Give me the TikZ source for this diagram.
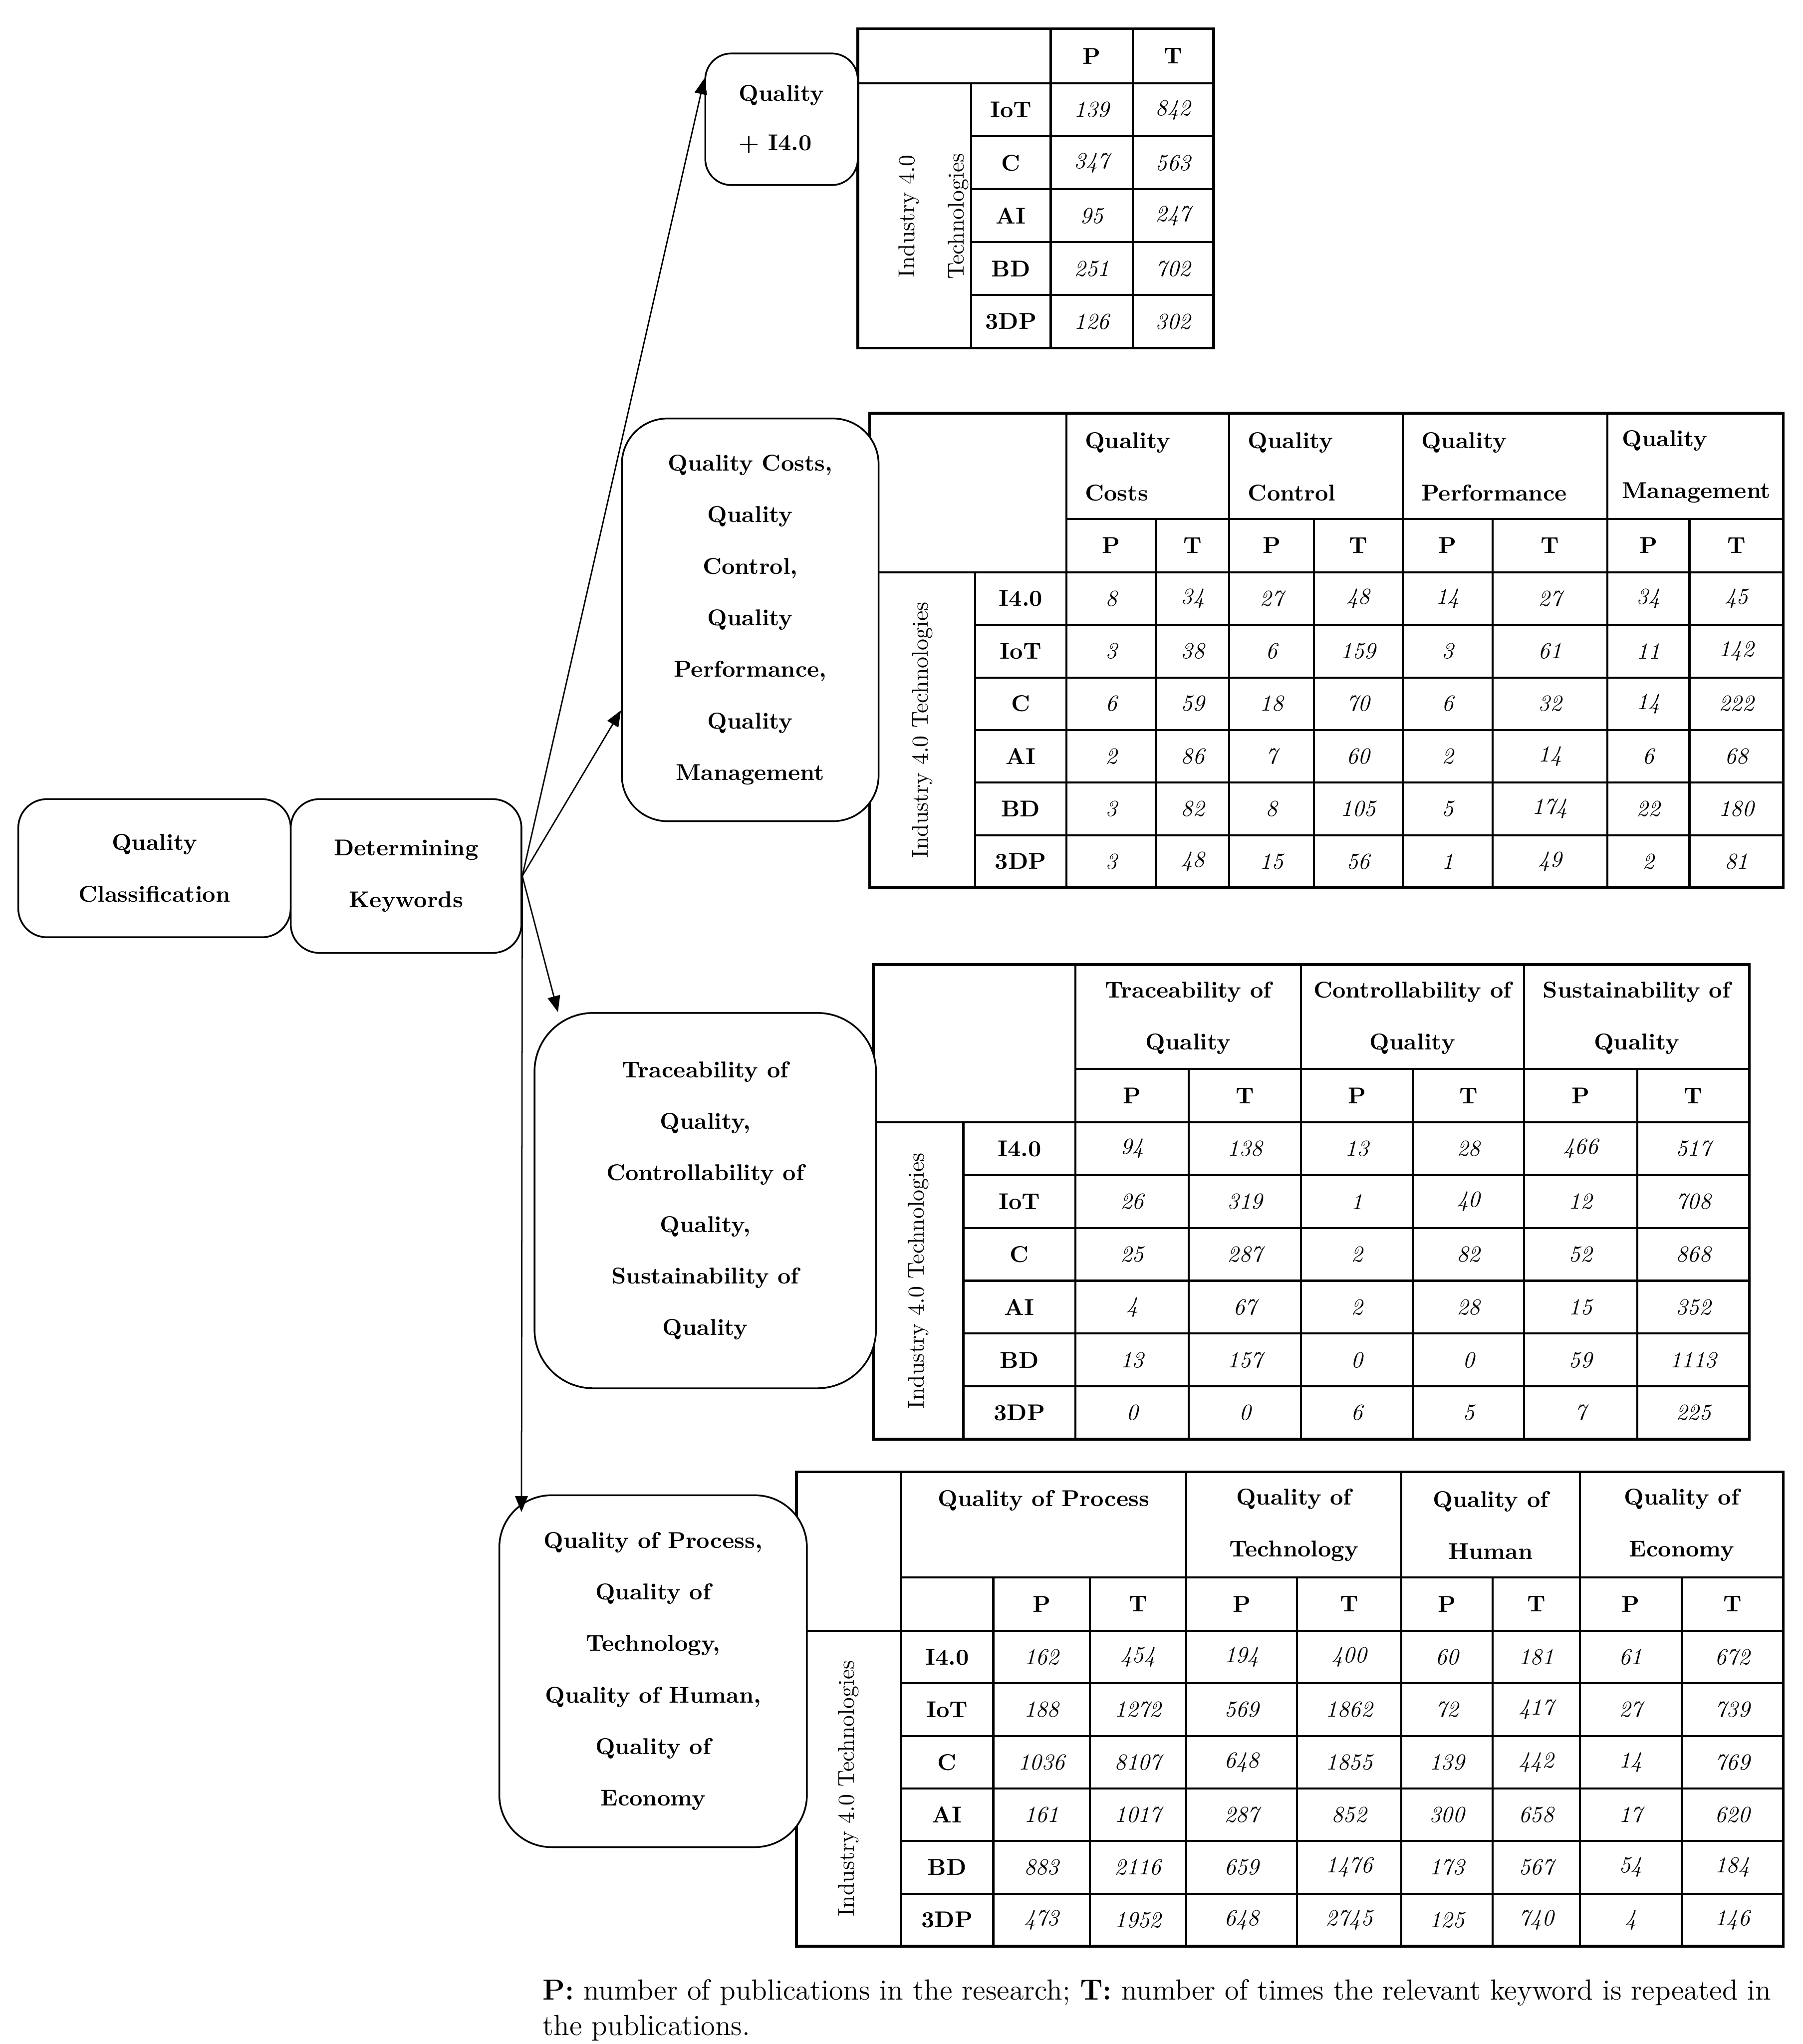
\documentclass[tikz,border=0pt]{standalone}
\usetikzlibrary{arrows.meta}
\tikzset{
  kbox/.style={draw=black, line width=0.75pt, rounded corners=#1, fill=white,
    align=center, inner sep=0pt, font=\fontsize{10}{22.5}\selectfont\bfseries},
  kbox/.default=0.44cm,
  tedge/.style={draw=black, line width=1.2pt},
  tline/.style={draw=black, line width=0.9pt},
  lab/.style={inner sep=0pt, font=\fontsize{10}{12}\selectfont\bfseries},
  val/.style={inner sep=0pt, font=\fontsize{10}{12}\selectfont\itshape},
  hdr/.style={inner sep=0pt, align=center, font=\fontsize{10}{22.7}\selectfont\bfseries},
  rotlab/.style={inner sep=0pt, rotate=90, align=center, font=\fontsize{10}{21.6}\selectfont},
  arr/.style={-{Triangle[length=7pt, width=5.5pt]}, draw=black, line width=0.6pt}}

\begin{document}
\begin{tikzpicture}[x=0.02cm, y=-0.02cm]
\useasboundingbox (0,0) rectangle (1383,1568);

% --- table: quality + I4.0
\draw[tedge] (658,22) rectangle (931,267);
\draw[tline] (658,64) -- (931,64);
\foreach \y in {104.6,145.2,185.8,226.4} \draw[tline] (745,\y) -- (931,\y);
\draw[tline] (745,64) -- (745,267);
\foreach \x in {806,869} \draw[tline] (\x,22) -- (\x,267);
\node[lab] (t1p) at (837.5,43) {P};
\node[lab] (t1t) at (900,43) {T};
\node[rotlab] (t1rot) at (716,166) {Industry 4.0\\Technologies};
\foreach \tech/\p/\t [count=\i] in {IoT/139/842, C/347/563, AI/95/247, BD/251/702, 3DP/126/302} {
  \pgfmathsetmacro\yy{64+40.6*(\i-0.5)}
  \node[lab] (t1r\i) at (775.5,\yy) {\tech};
  \node[val] (t1v\i-1) at (837.5,\yy) {\p};
  \node[val] (t1v\i-2) at (900,\yy) {\t};
}

% --- table: costs, control, performance, management
\draw[tedge] (667,317) rectangle (1368,681);
\draw[tline] (818,398) -- (1368,398);
\draw[tline] (667,439) -- (1368,439);
\foreach \y in {479.3,519.7,560,600.3,640.7} \draw[tline] (748,\y) -- (1368,\y);
\draw[tline] (748,439) -- (748,681);
\foreach \x in {818,943,1076,1233} \draw[tline] (\x,317) -- (\x,681);
\foreach \x in {887,1008,1145,1296} \draw[tline] (\x,398) -- (\x,681);
\foreach \txt/\x [count=\i] in {Costs/832, Control/957, Performance/1090, Management/1244}
  \node[hdr, align=left, anchor=west] (t2h\i) at (\x,358) {Quality\\\txt};
\foreach \x [count=\i] in {852.5,915,975.5,1042,1110.5,1189,1264.5,1332}
  \node[lab] (t2pt\i) at (\x,418.5) {\ifodd\i P\else T\fi};
\node[rotlab] (t2rot) at (707.5,560) {Industry 4.0 Technologies};
\foreach \tech/\vals [count=\i] in {I4.0/{8,34,27,48,14,27,34,45},
    IoT/{3,38,6,159,3,61,11,142}, C/{6,59,18,70,6,32,14,222},
    AI/{2,86,7,60,2,14,6,68}, BD/{3,82,8,105,5,174,22,180},
    3DP/{3,48,15,56,1,49,2,81}} {
  \pgfmathsetmacro\yy{439+40.33*(\i-0.5)}
  \node[lab] (t2r\i) at (783,\yy) {\tech};
  \foreach \v [count=\j] in \vals {
    \pgfmathsetmacro\xx{{852.5,915,975.5,1042,1110.5,1189,1264.5,1332}[\j-1]}
    \node[val] (t2v\i-\j) at (\xx,\yy) {\v};
  }
}

% --- table: traceability, controllability, sustainability
\draw[tedge] (670,740) rectangle (1342,1104);
\draw[tline] (825,820) -- (1342,820);
\draw[tline] (670,861) -- (1342,861);
\foreach \y in {901.5,942,982.5,1023,1063.5} \draw[tline] (739,\y) -- (1342,\y);
\draw[tline] (739,861) -- (739,1104);
\foreach \x in {825,998,1169} \draw[tline] (\x,740) -- (\x,1104);
\foreach \x in {912,1084,1256} \draw[tline] (\x,820) -- (\x,1104);
\foreach \txt/\x [count=\i] in {Traceability/911.5, Controllability/1083.5, Sustainability/1255.5}
  \node[hdr] (t3h\i) at (\x,781) {\txt{} of\\Quality};
\foreach \x [count=\i] in {868.5,955,1041,1126.5,1212.5,1299}
  \node[lab] (t3pt\i) at (\x,840.5) {\ifodd\i P\else T\fi};
\node[rotlab] (t3rot) at (704.5,982.5) {Industry 4.0 Technologies};
\foreach \tech/\vals [count=\i] in {I4.0/{94,138,13,28,466,517},
    IoT/{26,319,1,40,12,708}, C/{25,287,2,82,52,868},
    AI/{4,67,2,28,15,352}, BD/{13,157,0,0,59,1113},
    3DP/{0,0,6,5,7,225}} {
  \pgfmathsetmacro\yy{861+40.5*(\i-0.5)}
  \node[lab] (t3r\i) at (782,\yy) {\tech};
  \foreach \v [count=\j] in \vals {
    \pgfmathsetmacro\xx{{868.5,955,1041,1126.5,1212.5,1299}[\j-1]}
    \node[val] (t3v\i-\j) at (\xx,\yy) {\v};
  }
}

% --- table: process, technology, human, economy
\draw[tedge] (611,1129) rectangle (1368,1493);
\draw[tline] (691,1210) -- (1368,1210);
\draw[tline] (611,1251) -- (1368,1251);
\foreach \y in {1291.3,1331.7,1372,1412.3,1452.7} \draw[tline] (691,\y) -- (1368,\y);
\draw[tline] (762,1210) -- (762,1493);
\foreach \x in {691,910,1075,1212} \draw[tline] (\x,1129) -- (\x,1493);
\foreach \x in {836,995,1145,1290} \draw[tline] (\x,1210) -- (\x,1493);
\node[hdr] (t4h1) at (800.5,1151) {Quality of Process};
\foreach \txt/\x [count=\i from 2] in {Technology/992.5, Human/1143.5, Economy/1290}
  \node[hdr] (t4h\i) at (\x,1170) {Quality of\\\txt};
\foreach \x [count=\i] in {799,873,952.5,1035,1110,1178.5,1251,1329}
  \node[lab] (t4pt\i) at (\x,1230.5) {\ifodd\i P\else T\fi};
\node[rotlab] (t4rot) at (651,1372) {Industry 4.0 Technologies};
\foreach \tech/\vals [count=\i] in {I4.0/{162,454,194,400,60,181,61,672},
    IoT/{188,1272,569,1862,72,417,27,739}, C/{1036,8107,648,1855,139,442,14,769},
    AI/{161,1017,287,852,300,658,17,620}, BD/{883,2116,659,1476,173,567,54,184},
    3DP/{473,1952,648,2745,125,740,4,146}} {
  \pgfmathsetmacro\yy{1251+40.33*(\i-0.5)}
  \node[lab] (t4r\i) at (726.5,\yy) {\tech};
  \foreach \v [count=\j] in \vals {
    \pgfmathsetmacro\xx{{799,873,952.5,1035,1110,1178.5,1251,1329}[\j-1]}
    \node[val] (t4v\i-\j) at (\xx,\yy) {\v};
  }
}

% --- keyword boxes
\node[kbox, minimum width=4.18cm, minimum height=2.12cm] (qclass) at (118.5,666) {Quality\\Classification};
\node[kbox, minimum width=3.54cm, minimum height=2.36cm] (keys) at (311.5,672) {Determining\\Keywords};
\node[kbox=0.4cm, minimum width=2.34cm, minimum height=2.02cm, align=left,
  font=\fontsize{10}{21.6}\selectfont\bfseries] (q40) at (599.5,91.5) {Quality\\+ I4.0};
\node[kbox=0.7cm, minimum width=3.94cm, minimum height=6.18cm] (qcost) at (575.5,475.5)
  {Quality Costs,\\Quality\\Control,\\Quality\\Performance,\\Quality\\Management};
\node[kbox=0.9cm, minimum width=5.24cm, minimum height=5.76cm] (trace) at (541,921)
  {Traceability of\\Quality,\\Controllability of\\Quality,\\Sustainability of\\Quality};
\node[kbox=0.8cm, minimum width=4.72cm, minimum height=5.4cm] (proc) at (501,1282)
  {Quality of Process,\\Quality of\\Technology,\\Quality of Human,\\Quality of\\Economy};

% --- arrows
\coordinate (ptip) at (400,1160);
\draw[arr] (keys.east) -- (q40.152);
\draw[arr] (keys.east) -- (qcost.215);
\draw[arr] (keys.east) -- (trace.128);
\draw[arr] (keys.east) -- (ptip);

% --- note
\node[inner sep=0pt, anchor=north west, align=left, font=\fontsize{12.7}{15.4}\selectfont] (note) at (416,1518)
  {\textbf{P:} number of publications in the research; \textbf{T:} number of times the relevant keyword is repeated in\\the publications.};
\end{tikzpicture}
\end{document}
